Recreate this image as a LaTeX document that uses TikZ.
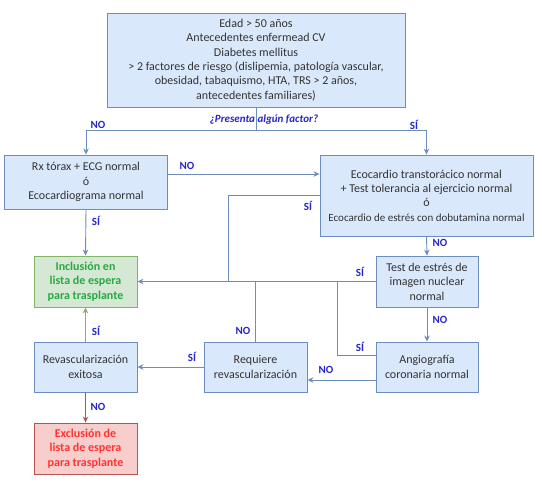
\documentclass[tikz,border=0pt]{standalone}
\usepackage{fontspec}
\setmainfont{Carlito}
\usetikzlibrary{arrows.meta}
\usetikzlibrary{calc}

\definecolor{boxblue}{HTML}{DAE8FC}
\definecolor{lineblue}{HTML}{6C8EBF}
\definecolor{boxgreen}{HTML}{D5E8D4}
\definecolor{linegreen}{HTML}{82B366}
\definecolor{txtgreen}{HTML}{2AA844}
\definecolor{boxred}{HTML}{F8CECC}
\definecolor{linered}{HTML}{B85450}
\definecolor{txtred}{HTML}{FF3333}
\definecolor{lblblue}{HTML}{2525C8}

\begin{document}
\begin{tikzpicture}[x=1pt,y=-1pt,
    box/.style={draw=lineblue, fill=boxblue, line width=0.9pt, align=center,
        inner sep=0pt, text=black!80, font=\fontsize{12}{14.4}\selectfont},
    okbox/.style={box, draw=linegreen, fill=boxgreen, text=txtgreen,
        font=\fontsize{12}{14.4}\selectfont\bfseries},
    outbox/.style={box, draw=linered, fill=boxred, text=txtred,
        font=\fontsize{12}{14.4}\selectfont\bfseries},
    conn/.style={draw=lineblue, line width=0.9pt},
    arr/.style={conn, -{Stealth[length=6pt,width=5.5pt]}},
    lbl/.style={text=lblblue, inner sep=0pt, font=\fontsize{11}{13}\selectfont\bfseries}]
            \useasboundingbox (0,0) rectangle (542,491);

            % boxes
            \node[box, minimum width=298, minimum height=94] (risk) at (256,60)
                {Edad > 50 años\\Antecedentes enfermead CV\\Diabetes mellitus\\
                 > 2 factores de riesgo (dislipemia, patología vascular,\\
                 obesidad, tabaquismo, HTA, TRS > 2 años,\\antecedentes familiares)};
            \node[box, minimum width=163, minimum height=54] (rx) at (86,182)
                {Rx tórax + ECG normal\\ó\\Ecocardiograma normal};
            \node[box, minimum width=213, minimum height=81] (eco) at (426.5,195.5)
                {Ecocardio transtorácico normal\\+ Test tolerancia al ejercicio normal\\ó\\
                 {\fontsize{11}{14.4}\selectfont Ecocardio de estrés con dobutamina normal}};
            \node[okbox, minimum width=103, minimum height=51] (incl) at (85.5,281.5)
                {Inclusión en\\lista de espera\\para trasplante};
            \node[box, minimum width=102, minimum height=51] (test) at (427,281.5)
                {Test de estrés de\\imagen nuclear\\normal};
            \node[box, minimum width=103, minimum height=50] (req) at (255.5,367)
                {Requiere\\revascularización};
            \node[box, minimum width=102, minimum height=50] (angio) at (427,367)
                {Angiografía\\coronaria normal};
            \node[box, minimum width=103, minimum height=50] (revasc) at (85.5,367)
                {Revascularización\\exitosa};
            \node[outbox, minimum width=103, minimum height=51] (excl) at (85.5,448.5)
                {Exclusión de\\lista de espera\\para trasplante};

            % junctions
            \coordinate (split) at (256,130);
            \coordinate (j1) at (228,281.5);
            \coordinate (j2) at (337,281.5);

            % connectors
            \draw[conn] (risk.south) -- (split);
            \draw[arr] (split) -| (rx.north);
            \draw[arr] (split) -| (eco.north);
            \draw[arr] ([yshift=8pt]rx.east) coordinate (r1) -- (r1 -| eco.west);
            \draw[arr] (rx.south) -- (incl.north);
            \draw[conn] (eco.west) -| (j1);
            \draw[arr] (eco.south) -- (test.north);
            \draw[arr] (test.west) -- (incl.east);
            \draw[arr] (test.south) -- (angio.north);
            \draw[conn] ([yshift=12pt]angio.west) -| (j2);
            \draw[arr] ([yshift=-13pt]angio.west) coordinate (a1) -- (a1 -| req.east);
            \draw[conn] (req.north) -- (req.north |- incl.east);
            \draw[arr] (req.west) -- (revasc.east);
            \draw[arr, draw=linegreen] (revasc.north) -- (incl.south);
            \draw[arr, draw=linered] (revasc.south) -- (excl.north);

            % labels
            \node[lbl, font=\fontsize{11}{13}\selectfont\bfseries\itshape] (ask) at (264,120)
                {¿Presenta algún factor?};
            \node[lbl] (l1) at (98,125) {NO};
            \node[lbl] (l2) at (414,125) {SÍ};
            \node[lbl] (l3) at (187,166) {NO};
            \node[lbl] (l4) at (96,221) {SÍ};
            \node[lbl] (l5) at (308,206) {SÍ};
            \node[lbl] (l6) at (440,243) {NO};
            \node[lbl] (l7) at (360,272) {SÍ};
            \node[lbl] (l8) at (440,320) {NO};
            \node[lbl] (l9) at (360,347) {SÍ};
            \node[lbl] (l10) at (326,370) {NO};
            \node[lbl] (l11) at (243,331) {NO};
            \node[lbl] (l12) at (192,357) {SÍ};
            \node[lbl] (l13) at (96,331) {SÍ};
            \node[lbl] (l14) at (98,407) {NO};
        \end{tikzpicture}
\end{document}
